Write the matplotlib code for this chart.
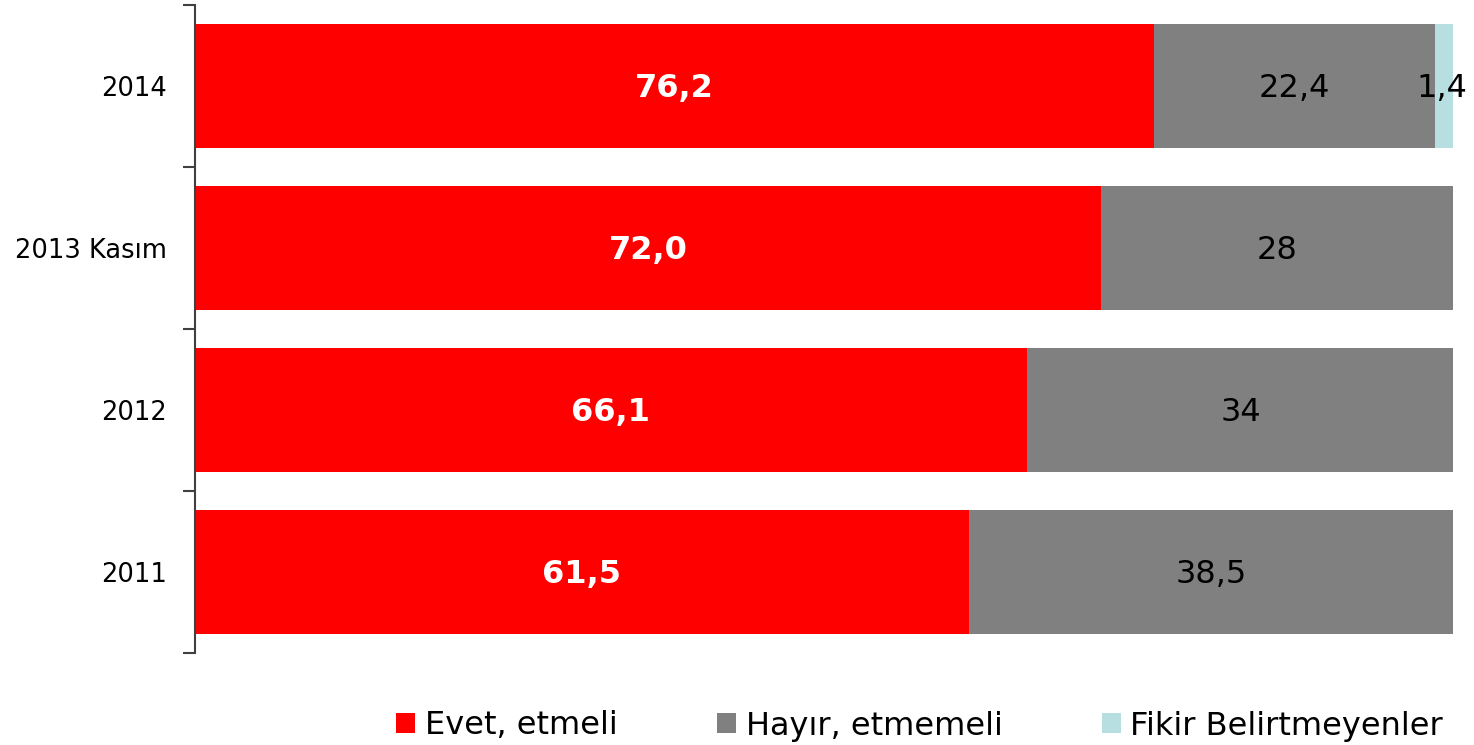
import matplotlib
matplotlib.use("Agg")
import matplotlib.pyplot as plt
import numpy as np

categories = ["2011", "2012", "2013 Kasım", "2014"]
evet = [61.5, 66.1, 72.0, 76.2]
hayir = [38.5, 34, 28, 22.4]
fikir = [0, 0, 0, 1.4]
evet_labels = ["61,5", "66,1", "72,0", "76,2"]
hayir_labels = ["38,5", "34", "28", "22,4"]
fikir_labels = ["", "", "", "1,4"]
series_names = ["Evet, etmeli", "Hayır, etmemeli", "Fikir Belirtmeyenler"]
colors = ["#FF0000", "#808080", "#B7DEE1"]

plt.rcParams['font.family'] = ['DejaVu Sans']
fig = plt.figure(figsize=(14.74, 7.45), dpi=100)
ax = fig.add_axes([195/1474, 1-653/745, (1453-195)/1474, (653-5)/745])

y = np.arange(len(categories))
h = 0.77
b1 = ax.barh(y, evet, height=h, color=colors[0], label=series_names[0])
b2 = ax.barh(y, hayir, left=evet, height=h, color=colors[1], label=series_names[1])
left3 = np.array(evet) + np.array(hayir)
b3 = ax.barh(y, fikir, left=left3, height=h, color=colors[2], label=series_names[2])

dy = -0.015
for i in range(len(categories)):
    ax.text(evet[i]/2, y[i] + dy, evet_labels[i], ha='center', va='center',
            color='white', fontweight='bold', fontsize=23)
    ax.text(evet[i] + hayir[i]/2, y[i] + dy, hayir_labels[i], ha='center', va='center',
            color='black', fontsize=23)
    if fikir[i] > 0:
        ax.text(left3[i] + fikir[i]/2 - 0.2, y[i] + dy, fikir_labels[i], ha='center', va='center',
                color='black', fontsize=23)

ax.set_xlim(0, 100)
ax.set_ylim(-0.5, len(categories)-0.5)
ax.set_yticks(y)
ax.set_yticklabels(categories)
ax.set_yticks(np.arange(-0.5, len(categories)), minor=True)
ax.tick_params(axis='y', which='major', length=0, pad=20, labelsize=18.5)
ax.tick_params(axis='y', which='minor', length=9, width=1.5, color='#404040')
ax.set_xticks([])
for s in ['top', 'right', 'bottom']:
    ax.spines[s].set_visible(False)
ax.spines['left'].set_color('#404040')
ax.spines['left'].set_linewidth(1.5)

leg = fig.legend(handles=[b1, b2, b3], labels=series_names, loc='center right',
                 bbox_to_anchor=(1443/1474, 1-726/745), ncol=3, frameon=False,
                 fontsize=23, handlelength=0.6, handleheight=0.6, handletextpad=0.3,
                 columnspacing=3.1, borderpad=0, borderaxespad=0)

fig.savefig("out.png", dpi=100)
